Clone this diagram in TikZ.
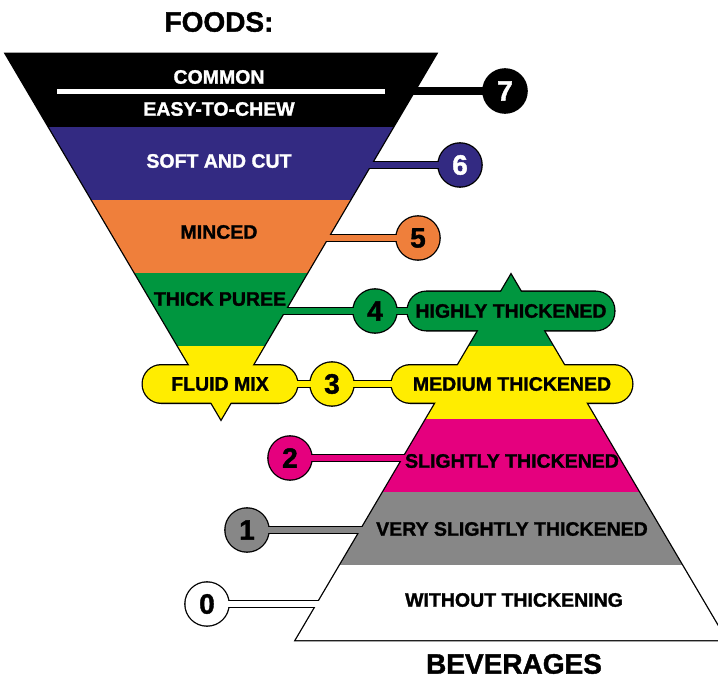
\documentclass[tikz,border=0pt]{standalone}
\usepackage{fontspec}
\setmainfont{Liberation Sans}[BoldFeatures={FakeBold=1.4}]
\pgfdeclarelayer{ollayer}
\pgfdeclarelayer{filllayer}
\pgfsetlayers{ollayer,filllayer,main}
\definecolor{cblue}{HTML}{332A82}
\definecolor{corange}{HTML}{EF7F3B}
\definecolor{cgreen}{HTML}{00963F}
\definecolor{cyellow}{HTML}{FFED00}
\definecolor{cmagenta}{HTML}{E5007E}
\definecolor{cgray}{HTML}{878787}
\tikzset{
  lbl/.style={font=\bfseries\fontsize{19.5}{20}\selectfont, inner sep=0pt},
  titletext/.style={font=\bfseries\fontsize{28}{30}\selectfont, inner sep=0pt},
  num/.style={circle, minimum size=43pt, inner sep=0pt, font=\bfseries\fontsize{28}{29}\selectfont},
  pill/.style={rectangle, minimum height=37pt, inner sep=0pt, font=\bfseries\fontsize{19.5}{20}\selectfont},
  outl/.style={draw=black, line width=2.6pt},
  connout/.style={draw=black, line width=8.2pt},
  conncore/.style={line width=5.6pt},
}
\begin{document}
\begin{tikzpicture}[x=1pt,y=-1pt]
\useasboundingbox (0,0) rectangle (718,679);
% titles
\node[titletext] (foods) at (219,22) {FOODS:};
\node[titletext] (bev) at (514,664) {BEVERAGES};
% funnel labels
\node[lbl, text=white] (common) at (219,77) {COMMON};
\node[lbl, text=white] (easy) at (219,109) {EASY-TO-CHEW};
\node[lbl, text=white] (soft) at (219,161) {SOFT AND CUT};
\node[lbl] (minced) at (219,232) {MINCED};
\node[lbl] (puree) at (220,299) {THICK PUREE};
\coordinate (barl) at (57,92);
\coordinate (barr) at (385,92);
\draw[white, line width=5pt] (barl) -- (barr);
% pills
\node[pill, minimum width=154pt] (fm) at (220,384) {FLUID MIX};
\node[pill, minimum width=206pt, minimum height=38pt] (hi) at (511,311) {HIGHLY THICKENED};
\node[pill, minimum width=240pt] (mt) at (512,384) {MEDIUM THICKENED};
% pyramid labels
\node[lbl] (slight) at (512,461) {SLIGHTLY THICKENED};
\node[lbl] (vslight) at (512,529) {VERY SLIGHTLY THICKENED};
\node[lbl] (without) at (514,600) {WITHOUT THICKENING};
% number circles
\node[num, text=white] (c7) at (505,91) {7};
\node[num, text=white] (c6) at (460,165) {6};
\node[num] (c5) at (418,238) {5};
\node[num] (c4) at (375,311) {4};
\node[num] (c3) at (332,384) {3};
\node[num] (c2) at (290,458) {2};
\node[num] (c1) at (247,530) {1};
\node[num] (c0) at (207,604) {0};
% connector ends on the triangle edges
\coordinate (e7) at (411,91);
\coordinate (e6) at (367,165);
\coordinate (e5) at (324,238);
\coordinate (e4) at (281,311);
\coordinate (e2) at (407,458);
\coordinate (e1) at (365,530);
\coordinate (e0) at (321,604);
% triangle corners
\coordinate (ftl) at (6,54);
\coordinate (ftr) at (436,54);
\coordinate (fap) at (221,419);
\coordinate (pap) at (511,275);
\coordinate (pbr) at (726,640);
\coordinate (pbl) at (296,640);

\begin{pgfonlayer}{ollayer}
  \draw[outl, line join=miter] (ftl) -- (ftr) -- (fap) -- cycle;
  \draw[outl, line join=miter] (pap) -- (pbr) -- (pbl) -- cycle;
  \foreach \p in {fm,hi,mt}
    \draw[outl, rounded corners=18.5pt] (\p.south west) rectangle (\p.north east);
  \foreach \i in {0,...,7}
    \draw[outl] (c\i.center) circle (21.5pt);
  \draw[connout] (e7) -- (c7.center);
  \draw[connout] (e6) -- (c6.center);
  \draw[connout] (e5) -- (c5.center);
  \draw[connout] (e4) -- (c4.center) -- (hi.center);
  \draw[connout] (fm.center) -- (c3.center) -- (mt.center);
  \draw[connout] (c2.center) -- (e2);
  \draw[connout] (c1.center) -- (e1);
  \draw[connout] (c0.center) -- (e0);
\end{pgfonlayer}

\begin{pgfonlayer}{filllayer}
  \draw[conncore, black] (e7) -- (c7.center);
  \draw[conncore, cblue] (e6) -- (c6.center);
  \draw[conncore, corange] (e5) -- (c5.center);
  \draw[conncore, cgreen] (e4) -- (c4.center) -- (hi.center);
  \draw[conncore, cyellow] (fm.center) -- (c3.center) -- (mt.center);
  \draw[conncore, cmagenta] (c2.center) -- (e2);
  \draw[conncore, cgray] (c1.center) -- (e1);
  \draw[conncore, white] (c0.center) -- (e0);
  \begin{scope}
    \clip (ftl) -- (ftr) -- (fap) -- cycle;
    \fill[black] (0,50) rectangle (440,127);
    \fill[cblue] (0,127) rectangle (440,200);
    \fill[corange] (0,200) rectangle (440,273);
    \fill[cgreen] (0,273) rectangle (440,346);
    \fill[cyellow] (0,346) rectangle (440,425);
  \end{scope}
  \begin{scope}
    \clip (pap) -- (pbr) -- (pbl) -- cycle;
    \fill[cgreen] (290,270) rectangle (730,346);
    \fill[cyellow] (290,346) rectangle (730,419);
    \fill[cmagenta] (290,419) rectangle (730,492);
    \fill[cgray] (290,492) rectangle (730,565);
    \fill[white] (290,565) rectangle (730,645);
  \end{scope}
  \fill[cyellow, rounded corners=18.5pt] (fm.south west) rectangle (fm.north east);
  \fill[cgreen, rounded corners=18.5pt] (hi.south west) rectangle (hi.north east);
  \fill[cyellow, rounded corners=18.5pt] (mt.south west) rectangle (mt.north east);
  \fill[black] (c7.center) circle (21.5pt);
  \fill[cblue] (c6.center) circle (21.5pt);
  \fill[corange] (c5.center) circle (21.5pt);
  \fill[cgreen] (c4.center) circle (21.5pt);
  \fill[cyellow] (c3.center) circle (21.5pt);
  \fill[cmagenta] (c2.center) circle (21.5pt);
  \fill[cgray] (c1.center) circle (21.5pt);
  \fill[white] (c0.center) circle (21.5pt);
\end{pgfonlayer}
\end{tikzpicture}
\end{document}
